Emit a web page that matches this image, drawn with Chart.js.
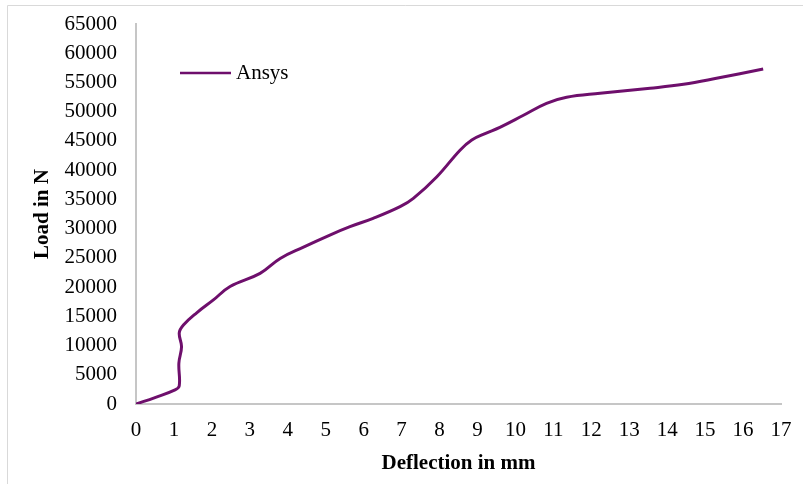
<!DOCTYPE html>
<html>
<head>
<meta charset="utf-8">
<script src="https://cdn.jsdelivr.net/npm/chart.js@4/dist/chart.umd.min.js"></script>
<style>
  html, body { margin: 0; padding: 0; background: #fff; }
  #wrap { width: 803px; height: 484px; position: relative; }
</style>
</head>
<body>
<div id="wrap"><canvas id="chart" width="803" height="484"></canvas></div>
<script>
// Ansys load vs deflection curve
const deflection = [0, 0.5, 1.03, 1.14, 1.13, 1.2, 1.14, 1.25, 1.6, 2.04, 2.48, 3.27, 3.8, 4.4, 5.11, 5.64, 6.25, 6.96, 7.31, 7.93, 8.54, 8.85, 9.2, 9.59, 10.2, 10.82, 11.35, 12.23, 13.55, 14.43, 15.3, 16.53];
const load = [0, 1100, 2400, 3100, 7000, 9800, 12150, 13500, 15600, 17800, 20100, 22350, 24900, 26800, 28900, 30330, 31750, 33750, 35170, 38880, 43420, 45160, 46250, 47330, 49350, 51430, 52460, 53140, 54000, 54680, 55710, 57300];
const seriesName = 'Ansys';
const xTicks = { min: 0, max: 17, step: 1 };
const yTicks = { min: 0, max: 65000, step: 5000 };

const LINE_COLOR = '#6e0f6c';
const FONT = "'Liberation Serif', 'Times New Roman', serif";

// light frame on top and left like the original export
const framePlugin = {
  id: 'frame',
  beforeDraw(chart) {
    const ctx = chart.ctx;
    ctx.save();
    ctx.strokeStyle = '#d9d9d9';
    ctx.lineWidth = 1;
    ctx.beginPath();
    ctx.moveTo(7.5, chart.height);
    ctx.lineTo(7.5, 5.5);
    ctx.lineTo(chart.width, 5.5);
    ctx.stroke();
    ctx.restore();
  }
};

// legend drawn inside the plot area, top left
const insideLegend = {
  id: 'insideLegend',
  afterDraw(chart) {
    const { ctx, chartArea } = chart;
    const ds = chart.data.datasets[0];
    const x = chartArea.left + 44;
    const y = chartArea.top + 49;
    ctx.save();
    ctx.strokeStyle = ds.borderColor;
    ctx.lineWidth = 2.5;
    ctx.beginPath();
    ctx.moveTo(x, y);
    ctx.lineTo(x + 51, y);
    ctx.stroke();
    ctx.fillStyle = '#000';
    ctx.font = '21px ' + FONT;
    ctx.textBaseline = 'middle';
    ctx.fillText(ds.label, x + 56, y);
    ctx.restore();
  }
};

const points = deflection.map((d, i) => ({ x: d, y: load[i] }));
const plain = (v) => String(v);

new Chart(document.getElementById('chart'), {
  type: 'line',
  data: {
    datasets: [{
      label: seriesName,
      data: points,
      borderColor: LINE_COLOR,
      backgroundColor: LINE_COLOR,
      borderWidth: 3,
      pointRadius: 0,
      tension: 0.4,
      fill: false,
    }]
  },
  options: {
    responsive: false,
    animation: false,
    layout: { padding: { left: 30, right: 22, top: 24, bottom: 0 } },
    plugins: {
      legend: { display: false },
      tooltip: { enabled: false }
    },
    scales: {
      x: {
        type: 'linear',
        min: xTicks.min,
        max: xTicks.max,
        grid: { display: false, drawTicks: false },
        border: { color: '#c6c6c6', width: 2 },
        ticks: { stepSize: xTicks.step, color: '#000', font: { family: FONT, size: 21 }, padding: 14, callback: plain },
        title: { display: true, text: 'Deflection in mm', color: '#000', font: { family: FONT, size: 21, weight: 'bold' }, padding: { top: 4, bottom: 8 } },
        afterFit: (scale) => { scale.height = 80; scale.paddingLeft = 0; scale.paddingRight = 0; }
      },
      y: {
        min: yTicks.min,
        max: yTicks.max,
        grid: { display: false, drawTicks: false },
        border: { color: '#c6c6c6', width: 2 },
        ticks: { stepSize: yTicks.step, color: '#000', font: { family: FONT, size: 21 }, padding: 19, callback: plain },
        title: { display: true, text: 'Load in N', color: '#000', font: { family: FONT, size: 21, weight: 'bold' }, padding: { top: 0, bottom: 0 } },
        afterFit: (scale) => { scale.width = 106; scale.paddingTop = 0; scale.paddingBottom = 0; }
      }
    }
  },
  plugins: [framePlugin, insideLegend]
});
</script>
</body>
</html>
